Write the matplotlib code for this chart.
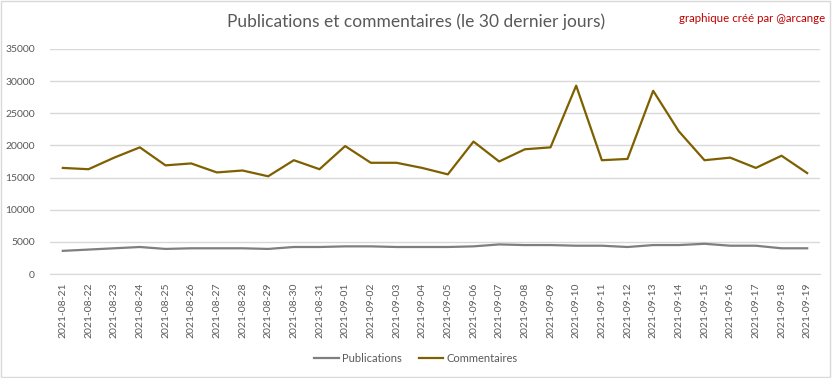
import matplotlib.pyplot as plt
from matplotlib.patches import Rectangle

dates = ["2021-08-21", "2021-08-22", "2021-08-23", "2021-08-24", "2021-08-25",
         "2021-08-26", "2021-08-27", "2021-08-28", "2021-08-29", "2021-08-30",
         "2021-08-31", "2021-09-01", "2021-09-02", "2021-09-03", "2021-09-04",
         "2021-09-05", "2021-09-06", "2021-09-07", "2021-09-08", "2021-09-09",
         "2021-09-10", "2021-09-11", "2021-09-12", "2021-09-13", "2021-09-14",
         "2021-09-15", "2021-09-16", "2021-09-17", "2021-09-18", "2021-09-19"]

publications = [3600, 3800, 4000, 4200, 3900, 4000, 4000, 4000, 3900, 4200,
                4200, 4300, 4300, 4200, 4200, 4200, 4300, 4600, 4500, 4500,
                4400, 4400, 4200, 4500, 4500, 4700, 4400, 4400, 4000, 4000]

commentaires = [16500, 16300, 18100, 19700, 16900, 17200, 15800, 16100, 15200, 17700,
                16300, 19900, 17300, 17300, 16500, 15500, 20600, 17500, 19400, 19700,
                29300, 17700, 17900, 28500, 22200, 17700, 18100, 16500, 18400, 15700]

yticks = [0, 5000, 10000, 15000, 20000, 25000, 30000, 35000]

plt.rcParams['font.family'] = ['Lato', 'DejaVu Sans']
text_color = "#595959"

fig = plt.figure(figsize=(8.32, 3.78), dpi=100)
ax = fig.add_axes([50 / 832, 104 / 378, 770 / 832, 225 / 378])

x = list(range(len(dates)))
ax.plot(x, publications, color="#7F7F7F", lw=1.6, label="Publications")
ax.plot(x, commentaires, color="#7F6000", lw=1.6, label="Commentaires")

ax.set_xlim(-0.5, len(dates) - 0.5)
ax.set_ylim(0, 35000)
ax.set_yticks(yticks)
ax.set_yticklabels([str(v) for v in yticks], fontsize=7.5, color=text_color)
ax.set_xticks(x)
ax.set_xticklabels(dates, rotation=90, fontsize=7.5, color=text_color)
ax.tick_params(length=0)
ax.tick_params(axis="y", pad=11)
ax.tick_params(axis="x", pad=6)
ax.grid(axis="y", color="#D9D9D9", lw=1)
ax.set_axisbelow(True)
for s in ["top", "right", "left"]:
    ax.spines[s].set_visible(False)
ax.spines["bottom"].set_color("#D9D9D9")

fig.text(0.5, 1 - 22 / 378, "Publications et commentaires (le 30 dernier jours)",
         ha="center", va="center", fontsize=12.5, color=text_color)
fig.text(825 / 832, 1 - 18 / 378, "graphique créé par @arcange",
         ha="right", va="center", fontsize=8.3, color="#C00000")

fig.legend(loc="center", bbox_to_anchor=(0.5, 1 - 358 / 378), ncol=2, frameon=False,
           fontsize=8, labelcolor=text_color, handlelength=2.2, columnspacing=1.5,
           handletextpad=0.3)

fig.patches.append(Rectangle((0.001, 0.002), 0.997, 0.995, transform=fig.transFigure,
                             fill=False, edgecolor="#D9D9D9", lw=1))

fig.savefig("out.png", dpi=100)
